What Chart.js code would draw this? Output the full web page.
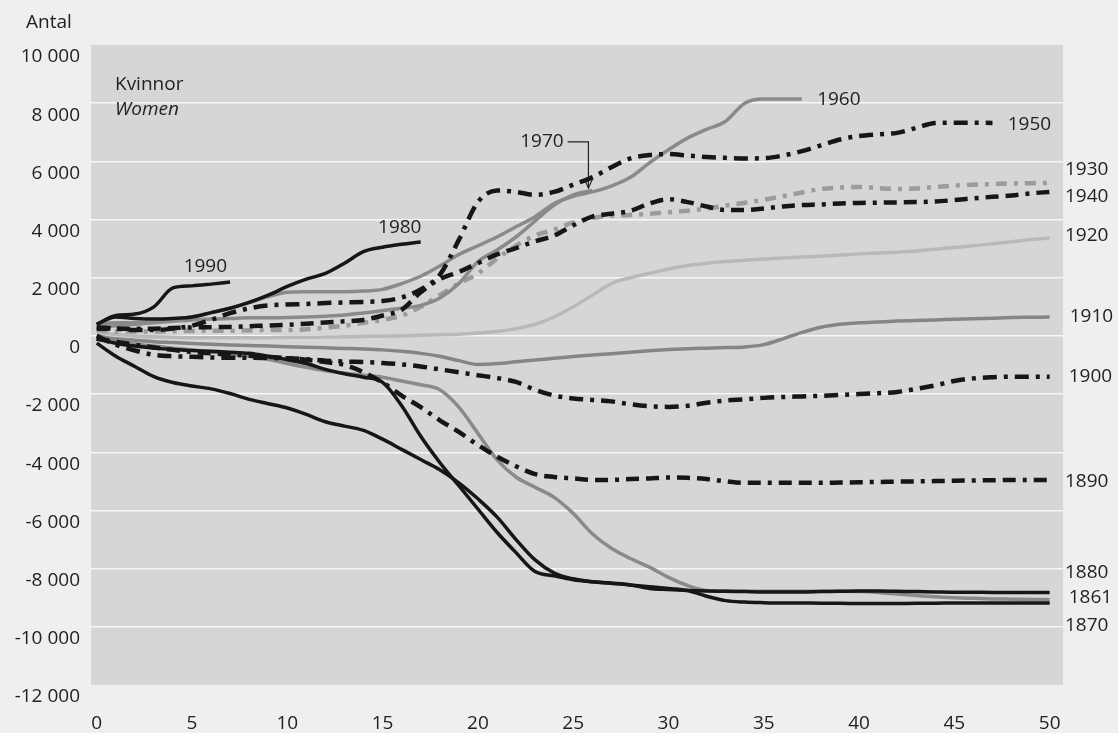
<!DOCTYPE html>
<html>
<head>
<meta charset="utf-8">
<script src="https://cdn.jsdelivr.net/npm/chart.js@4.4.1/dist/chart.umd.min.js"></script>
<style>
  body { margin: 0; background: #efefef; }
  #wrap { width: 1118px; height: 733px; }
</style>
</head>
<body>
<div id="wrap"><canvas id="chart" width="1118" height="733"></canvas></div>
<script>
// age (years) on the x axis
const ages = [0, 1, 2, 3, 4, 5, 6, 7, 8, 9, 10, 11, 12, 13, 14, 15, 16, 17, 18, 19, 20,
  21, 22, 23, 24, 25, 26, 27, 28, 29, 30, 31, 32, 33, 34, 35, 36, 37, 38, 39, 40,
  41, 42, 43, 44, 45, 46, 47, 48, 49, 50];

const xTicks = [0, 5, 10, 15, 20, 25, 30, 35, 40, 45, 50];
const yTicks = [-12000, -10000, -8000, -6000, -4000, -2000, 0, 2000, 4000, 6000, 8000, 10000];

// net number per birth cohort (women)
const v1861 = [-250, -700, -1050, -1400, -1600, -1720, -1820, -1980, -2180, -2330, -2480,
  -2700, -2950, -3100, -3250, -3550, -3900, -4250, -4600, -5050, -5600,
  -6220, -7000, -7700, -8150, -8350, -8450, -8500, -8560, -8680, -8720,
  -8750, -8770, -8780, -8790, -8800, -8800, -8800, -8790, -8780, -8770,
  -8770, -8780, -8790, -8800, -8810, -8810, -8820, -8820, -8820, -8820];
const v1870 = [-100, -250, -350, -420, -470, -500, -530, -560, -600, -700, -820,
  -950, -1150, -1300, -1420, -1600, -2400, -3450, -4350, -5150, -5950,
  -6750, -7450, -8100, -8250, -8380, -8450, -8500, -8560, -8620, -8680,
  -8750, -8950, -9100, -9150, -9170, -9180, -9180, -9190, -9190, -9200,
  -9200, -9200, -9190, -9190, -9180, -9180, -9180, -9180, -9180, -9180];
const v1880 = [-100, -200, -280, -350, -420, -480, -550, -620, -700, -800, -950,
  -1080, -1200, -1280, -1350, -1420, -1550, -1680, -1850, -2450, -3350,
  -4250, -4850, -5200, -5550, -6100, -6800, -7300, -7650, -7950, -8300,
  -8580, -8750, -8770, -8780, -8780, -8780, -8780, -8780, -8780, -8790,
  -8820, -8870, -8920, -8970, -9000, -9020, -9040, -9050, -9060, -9070];
const v1890 = [-100, -200, -300, -400, -480, -550, -600, -640, -680, -720, -760,
  -820, -900, -1000, -1250, -1600, -2050, -2450, -2900, -3300, -3750,
  -4150, -4480, -4750, -4850, -4900, -4950, -4950, -4920, -4900, -4870,
  -4880, -4920, -5000, -5050, -5050, -5050, -5050, -5050, -5040, -5030,
  -5020, -5010, -5000, -4990, -4980, -4970, -4960, -4950, -4950, -4950];
const v1900 = [0, -300, -500, -650, -700, -720, -740, -750, -750, -760, -770,
  -800, -850, -880, -900, -930, -980, -1050, -1150, -1250, -1350,
  -1450, -1580, -1850, -2050, -2150, -2200, -2250, -2350, -2420, -2440,
  -2400, -2300, -2220, -2180, -2130, -2100, -2080, -2060, -2030, -2000,
  -1970, -1930, -1820, -1700, -1550, -1460, -1420, -1400, -1400, -1400];
const v1910 = [0, -100, -150, -200, -230, -260, -290, -310, -330, -350, -370,
  -390, -410, -430, -450, -480, -530, -600, -700, -850, -980,
  -950, -890, -830, -770, -710, -660, -610, -560, -510, -470,
  -440, -420, -400, -380, -300, -100, 120, 300, 400, 450,
  480, 510, 530, 550, 570, 590, 610, 630, 640, 650];
const v1920 = [100, 50, 0, -30, -50, -60, -60, -60, -60, -60, -50,
  -50, -40, -30, -20, -10, 0, 20, 40, 60, 100,
  150, 250, 400, 650, 1000, 1400, 1800, 2000, 2150, 2300,
  2420, 2500, 2560, 2600, 2640, 2680, 2710, 2740, 2780, 2820,
  2850, 2880, 2920, 2980, 3040, 3100, 3170, 3240, 3310, 3370];
const v1930 = [200, 150, 150, 150, 160, 170, 180, 180, 190, 200, 200,
  230, 280, 350, 450, 550, 700, 1000, 1400, 1800, 2150,
  2650, 3100, 3450, 3650, 3900, 4050, 4130, 4160, 4200, 4250,
  4300, 4380, 4480, 4580, 4680, 4800, 4930, 5050, 5100, 5120,
  5080, 5050, 5070, 5120, 5170, 5200, 5220, 5240, 5250, 5260];
const v1940 = [250, 250, 250, 250, 270, 290, 300, 310, 330, 360, 380,
  420, 460, 500, 550, 700, 900, 1500, 1950, 2200, 2500,
  2800, 3020, 3250, 3450, 3800, 4100, 4200, 4300, 4550, 4700,
  4600, 4450, 4330, 4330, 4380, 4450, 4500, 4520, 4550, 4570,
  4580, 4590, 4600, 4620, 4670, 4730, 4780, 4830, 4900, 4950];
const v1950 = [300, 250, 200, 200, 250, 350, 550, 780, 950, 1050, 1080,
  1100, 1130, 1150, 1170, 1200, 1320, 1600, 2100, 3300, 4600,
  5000, 4950, 4850, 4950, 5200, 5450, 5800, 6100, 6220, 6250,
  6200, 6150, 6120, 6100, 6110, 6200, 6350, 6550, 6750, 6870,
  6930, 6980, 7150, 7320, 7330, 7330, 7320];
const v1960 = [400, 450, 450, 480, 550, 650, 800, 950, 1150, 1350, 1500,
  1520, 1520, 1520, 1540, 1600, 1800, 2050, 2400, 2800, 3100,
  3400, 3750, 4100, 4550, 4800, 4950, 5150, 5450, 5950, 6400,
  6800, 7100, 7380, 8000, 8140, 8140, 8140];
const v1970 = [300, 350, 400, 450, 500, 550, 580, 600, 620, 620, 630,
  650, 680, 720, 790, 870, 950, 1050, 1300, 1800, 2550,
  2950, 3400, 3950, 4500, 4850, 5000];
const v1980 = [400, 650, 600, 580, 600, 650, 800, 950, 1150, 1400, 1700,
  1950, 2150, 2500, 2900, 3050, 3150, 3230];
const v1990 = [400, 700, 750, 1000, 1650, 1720, 1780, 1850];

// text labels placed in data units (age, value)
const cohortLabels = [
  { text: '1990', age: 5.7, value: 2370, align: 'center' },
  { text: '1980', age: 15.9, value: 3710, align: 'center' },
  { text: '1970', age: 24.5, value: 6670, align: 'right' },
  { text: '1960', age: 37.8, value: 8140, align: 'left' },
  { text: '1950', age: 47.8, value: 7250, align: 'left' },
  { text: '1930', age: 50.8, value: 5700, align: 'left' },
  { text: '1940', age: 50.8, value: 4780, align: 'left' },
  { text: '1920', age: 50.8, value: 3440, align: 'left' },
  { text: '1910', age: 51.05, value: 650, align: 'left' },
  { text: '1900', age: 51.0, value: -1410, align: 'left' },
  { text: '1890', age: 50.8, value: -5020, align: 'left' },
  { text: '1880', age: 50.8, value: -8140, align: 'left' },
  { text: '1861', age: 51.0, value: -9000, align: 'left' },
  { text: '1870', age: 50.8, value: -9960, align: 'left' }
];

const BLACK = '#161616';
const GREY = '#8a8a8a';
const LIGHT = '#b9b9b9';
const FONT = '"Open Sans", "DejaVu Sans", sans-serif';

function series(label, values, color, width, dash) {
  return {
    label: label,
    data: values.map((v, i) => ({ x: ages[i], y: v })),
    borderColor: color,
    borderWidth: width,
    borderDash: dash || [],
    borderCapStyle: 'butt',
    borderJoinStyle: 'round',
    pointRadius: 0,
    cubicInterpolationMode: 'monotone',
    fill: false
  };
}

const datasets = [
  series('1990', v1990, BLACK, 3.5),
  series('1980', v1980, BLACK, 3.5),
  series('1861', v1861, BLACK, 3.5),
  series('1870', v1870, BLACK, 3.5),
  series('1950', v1950, BLACK, 4.5, [14, 7, 4, 7]),
  series('1940', v1940, BLACK, 4.5, [13, 7, 13, 7, 4, 7]),
  series('1900', v1900, BLACK, 4.5, [14, 7, 4, 7]),
  series('1890', v1890, BLACK, 4.5, [13, 7, 13, 7, 4, 7]),
  series('1970', v1970, GREY, 3.5),
  series('1960', v1960, GREY, 3.5),
  series('1930', v1930, '#9b9b9b', 4.5, [11, 7, 4, 7]),
  series('1880', v1880, GREY, 3.5),
  series('1910', v1910, '#858585', 3.5),
  series('1920', v1920, LIGHT, 3.5)
];

// grey plot area on a light page
const background = {
  id: 'background',
  beforeDraw(chart) {
    const { ctx, chartArea: a } = chart;
    ctx.save();
    ctx.fillStyle = '#efefef';
    ctx.fillRect(0, 0, chart.width, chart.height);
    ctx.fillStyle = '#d6d6d6';
    ctx.fillRect(a.left, a.top, a.right - a.left, a.bottom - a.top);
    ctx.restore();
  }
};

// cohort labels, titles and the 1970 arrow
const annotations = {
  id: 'annotations',
  afterDraw(chart) {
    const { ctx } = chart;
    const x = chart.scales.x, y = chart.scales.y;
    ctx.save();
    ctx.fillStyle = '#222';
    ctx.textBaseline = 'middle';
    ctx.font = '19px ' + FONT;
    cohortLabels.forEach(l => {
      ctx.textAlign = l.align;
      ctx.fillText(l.text, x.getPixelForValue(l.age), y.getPixelForValue(l.value));
    });

    ctx.textAlign = 'left';
    ctx.fillText('Antal', 26, 23);
    ctx.fillText('Kvinnor', 115, 85);
    ctx.font = 'italic 19px ' + FONT;
    ctx.fillText('Women', 115, 110);

    // arrow from the 1970 label to the end of its line
    const ax = x.getPixelForValue(25.8);
    const ay0 = y.getPixelForValue(6670);
    const ay1 = y.getPixelForValue(5080);
    const lx = x.getPixelForValue(24.5) + 4;
    ctx.strokeStyle = '#222';
    ctx.lineWidth = 1.2;
    ctx.beginPath();
    ctx.moveTo(lx, ay0);
    ctx.lineTo(ax, ay0);
    ctx.lineTo(ax, ay1);
    ctx.stroke();
    ctx.beginPath();
    ctx.moveTo(ax - 4, ay1 - 9);
    ctx.lineTo(ax, ay1);
    ctx.lineTo(ax + 4, ay1 - 9);
    ctx.stroke();
    ctx.restore();
  }
};

new Chart(document.getElementById('chart'), {
  type: 'line',
  data: { datasets: datasets },
  options: {
    responsive: false,
    animation: false,
    devicePixelRatio: 1,
    layout: { padding: { top: 45, right: 55, left: 0, bottom: 0 } },
    plugins: { legend: { display: false }, tooltip: { enabled: false } },
    scales: {
      x: {
        type: 'linear',
        min: -0.3,
        max: 50.7,
        afterBuildTicks: s => { s.ticks = xTicks.map(v => ({ value: v })); },
        afterFit: s => { s.height = 48; },
        grid: { display: false },
        border: { display: false },
        ticks: {
          autoSkip: false,
          maxRotation: 0,
          padding: 19,
          color: '#222',
          font: { family: FONT, size: 19 }
        }
      },
      y: {
        min: -12000,
        max: 10000,
        afterBuildTicks: s => { s.ticks = yTicks.map(v => ({ value: v })); },
        afterFit: s => { s.width = 91; },
        grid: {
          drawTicks: false,
          lineWidth: 1.5,
          color: c => (c.tick && (c.tick.value === 10000 || c.tick.value === -12000))
            ? 'rgba(0,0,0,0)' : 'rgba(255,255,255,0.8)'
        },
        border: { display: false },
        ticks: {
          autoSkip: false,
          padding: 11,
          labelOffset: 12,
          color: '#222',
          font: { family: FONT, size: 19 },
          callback: v => (v < 0 ? '-' : '') + String(Math.abs(v)).replace(/\B(?=(\d{3})+(?!\d))/g, ' ')
        }
      }
    }
  },
  plugins: [background, annotations]
});
</script>
</body>
</html>
